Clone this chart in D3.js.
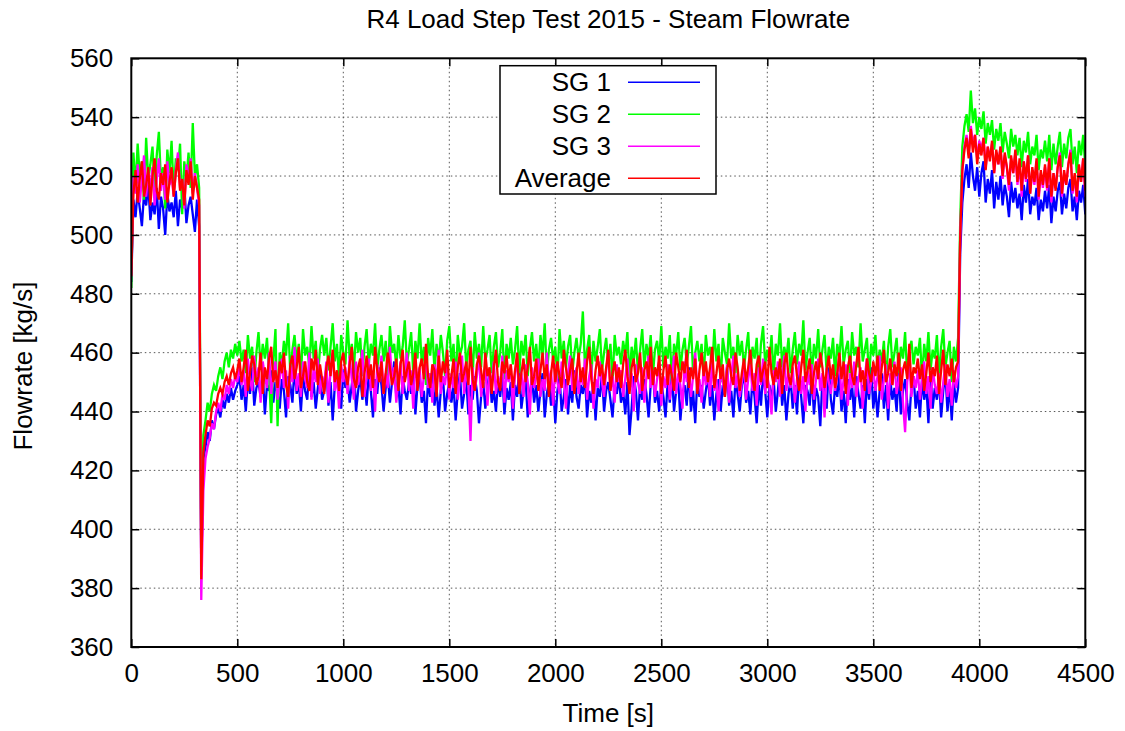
<!DOCTYPE html>
<html>
<head>
<meta charset="utf-8">
<script src="https://cdn.jsdelivr.net/npm/d3@7"></script>
<style>
  body { margin: 0; background: #fff; }
  svg { display: block; font-family: "Liberation Sans", Arial, Helvetica, sans-serif; }
</style>
</head>
<body>
<svg id="chart"></svg>
<script>
// samples every 10 s, t = 0 .. 4500
const TIME_STEP = 10;

const SG1 = [
  484, 512, 506, 515, 509, 503, 514, 510, 517, 505,
  511, 507, 516, 502, 513, 509, 500, 514, 508, 511,
  506, 515, 503, 512, 509, 517, 504, 510, 513, 507,
  501, 512,
  503, 386, 424, 428, 433, 430, 437, 434, 439, 441, 438, 444, 441, 446, 443, 448, 444, 447, 449,
  452, 444, 449, 440, 451, 446, 455, 442, 448, 450, 445, 453, 439, 449, 447, 454, 443, 450, 446, 441,
  451, 447, 438, 452, 449, 443, 455, 446, 450, 440, 452, 447, 444, 456, 445, 450, 441, 448, 453, 444,
  447, 455, 442, 450, 437, 449, 453, 445, 441, 454, 448, 451, 443, 449, 456, 440, 447, 452, 444, 450,
  442, 453, 447, 438, 451, 446, 455, 449, 440, 448, 452, 443, 450, 457, 445, 449, 439, 452, 447, 444,
  450, 446, 454, 439, 449, 452, 443, 447, 436, 451, 445, 454, 442, 448, 438, 447, 452, 440, 446, 450,
  443, 449, 437, 447, 453, 441, 446, 451, 439, 449, 444, 452, 447, 436, 445, 450, 441, 448, 454, 443,
  447, 440, 451, 445, 453, 439, 448, 444, 450, 437, 449, 445, 455, 441, 447, 451, 438, 446, 452, 443,
  449, 440, 447, 453, 438, 446, 450, 442, 449, 436, 447, 452, 440, 445, 451, 439, 449, 443, 454, 445,
  441, 449, 446, 452, 438, 447, 443, 450, 437, 448, 445, 453, 440, 447, 450, 444, 438, 449, 446, 452,
  443, 447, 439, 450, 432, 441, 452, 447, 437, 449, 444, 451, 446, 438, 449, 454, 443, 447, 440, 450,
  445, 438, 450, 443, 453, 440, 447, 451, 437, 446, 449, 442, 455, 440, 447, 436, 451, 445, 449, 441,
  447, 452, 442, 449, 437, 446, 451, 440, 449, 445, 455, 442, 447, 438, 451, 446, 440, 449, 453, 443,
  447, 439, 451, 445, 436, 449, 442, 453, 447, 438, 449, 444, 451, 440, 447, 455, 442, 449, 437, 446,
  451, 441, 449, 439, 453, 445, 436, 449, 447, 442, 453, 439, 448, 445, 435, 451, 447, 441, 455, 444,
  439, 449, 445, 453, 440, 447, 436, 451, 444, 449, 438, 452, 446, 441, 449, 436, 451, 444, 455, 441,
  448, 438, 447, 453, 441, 449, 437, 451, 444, 448, 440, 454, 439, 447, 451, 443, 437, 449, 452, 441,
  447, 438, 451, 444, 449, 436, 453, 441, 448, 444, 451, 438, 447, 453, 440, 449, 437, 450, 443, 448,
  494, 511, 519, 524, 516, 528, 520, 515, 523, 513, 521, 525, 511, 519, 514, 522, 509, 518, 512, 520,
  510, 517, 513, 506, 518, 511, 516, 509, 514, 505, 517, 511, 519, 507, 513, 510, 516, 505, 512, 508,
  515, 509, 517, 504, 513, 508, 515, 518, 507, 514, 509, 516, 519, 508, 513, 505, 515, 511, 517, 507
];

const SG2 = [
  482, 528, 516, 531, 520, 525, 512, 533, 519, 524,
  530, 515, 527, 535, 518, 523, 509, 529, 521, 532,
  514, 526, 522, 531, 507, 525, 519, 528, 516, 538,
  520, 524,
  516, 390, 432, 437, 443, 440, 446, 449, 447, 452, 455, 451, 457, 460, 455, 461, 458, 463, 459,
  464, 457, 461, 453, 466, 458, 462, 450, 460, 467, 455, 463, 458, 465, 452, 436, 457, 468, 435, 460,
  456, 464, 459, 470, 453, 461, 466, 457, 463, 451, 468, 459, 462, 455, 469, 458, 464, 452, 461, 466,
  459, 465, 454, 462, 470, 457, 463, 451, 466, 460, 456, 471, 458, 463, 454, 467, 460, 465, 452, 462,
  468, 456, 463, 459, 470, 454, 461, 466, 457, 464, 452, 469, 460, 463, 455, 466, 458, 462, 471, 456,
  461, 467, 453, 464, 458, 470, 456, 462, 449, 465, 459, 468, 454, 463, 457, 466, 460, 452, 464, 469,
  457, 463, 450, 466, 459, 462, 470, 455, 461, 464, 452, 467, 458, 463, 455, 469, 457, 461, 466, 453,
  462, 467, 455, 460, 468, 451, 463, 458, 465, 456, 461, 469, 453, 464, 459, 466, 452, 461, 467, 457,
  463, 454, 466, 459, 470, 453, 461, 465, 457, 462, 451, 468, 458, 464, 455, 462, 466, 453, 460, 465,
  458, 463, 474, 455, 461, 466, 452, 464, 457, 462, 468, 454, 460, 465, 456, 463, 450, 466, 459, 462,
  456, 464, 459, 467, 451, 462, 457, 465, 453, 461, 468, 455, 463, 458, 466, 452, 461, 464, 457, 469,
  455, 462, 458, 466, 450, 463, 459, 467, 454, 461, 465, 456, 462, 469, 453, 460, 464, 457, 463, 451,
  466, 459, 462, 454, 468, 457, 463, 450, 465, 460, 456, 470, 458, 462, 453, 466, 459, 464, 455, 461,
  467, 453, 462, 458, 465, 451, 463, 469, 456, 461, 457, 466, 452, 463, 459, 470, 455, 462, 458, 465,
  453, 461, 467, 456, 463, 459, 471, 454, 460, 465, 452, 463, 458, 468, 455, 461, 466, 453, 462, 458,
  465, 452, 463, 458, 469, 456, 461, 464, 453, 467, 459, 462, 455, 470, 457, 461, 465, 451, 463, 459,
  466, 454, 461, 457, 464, 450, 462, 468, 455, 460, 465, 453, 462, 458, 467, 452, 461, 464, 456, 462,
  459, 465, 451, 463, 457, 467, 454, 461, 458, 466, 452, 462, 468, 455, 460, 464, 450, 462, 457, 465,
  505, 530, 537, 541, 535, 549, 538, 543, 534, 540, 536, 542, 531, 538, 534, 539, 529, 536, 532, 538,
  528, 535, 531, 526, 536, 530, 534, 527, 533, 523, 532, 528, 535, 524, 530, 527, 534, 522, 529, 526,
  532, 525, 534, 522, 531, 524, 530, 535, 523, 531, 526, 533, 536, 524, 530, 521, 532, 527, 534, 523
];

const SG3 = [
  486, 520, 514, 524, 511, 519, 527, 513, 521, 516,
  523, 510, 519, 526, 515, 521, 512, 525, 517, 520,
  513, 522, 528, 516, 519, 509, 524, 518, 526, 514,
  521, 516,
  510, 376, 413, 424, 428, 431, 436, 434, 440, 443, 440, 446, 444, 449, 446, 451, 448, 452, 450,
  456, 449, 454, 445, 458, 451, 447, 459, 450, 455, 443, 457, 452, 448, 460, 446, 453, 457, 444, 451,
  458, 448, 454, 441, 456, 450, 462, 447, 453, 445, 457, 451, 448, 460, 444, 455, 450, 458, 446, 452,
  449, 457, 443, 454, 460, 447, 452, 441, 456, 450, 455, 446, 459, 451, 444, 457, 449, 453, 461, 445,
  452, 458, 447, 454, 440, 456, 450, 459, 446, 453, 448, 462, 449, 455, 443, 451, 457, 446, 453, 460,
  447, 454, 441, 457, 450, 455, 445, 452, 459, 448, 453, 443, 456, 450, 461, 446, 452, 449, 457, 444,
  453, 448, 457, 444, 451, 459, 446, 454, 449, 430, 455, 447, 452, 460, 445, 451, 456, 442, 453, 449,
  457, 446, 452, 448, 459, 443, 454, 450, 456, 441, 452, 458, 447, 453, 445, 456, 450, 439, 455, 448,
  452, 458, 445, 451, 447, 460, 449, 454, 442, 456, 450, 446, 457, 452, 441, 453, 459, 447, 451, 455,
  446, 453, 449, 458, 444, 452, 456, 441, 451, 448, 457, 450, 445, 454, 460, 447, 452, 443, 456, 450,
  454, 445, 451, 458, 447, 453, 440, 456, 450, 446, 455, 443, 452, 459, 448, 454, 445, 451, 457, 442,
  452, 448, 456, 444, 451, 459, 446, 453, 449, 441, 457, 450, 454, 445, 452, 460, 447, 451, 443, 455,
  449, 453, 445, 458, 447, 451, 440, 455, 450, 446, 456, 443, 452, 459, 448, 453, 445, 450, 457, 444,
  451, 456, 447, 453, 442, 455, 449, 458, 446, 452, 448, 439, 454, 450, 457, 445, 451, 459, 447, 453,
  448, 455, 443, 451, 457, 446, 452, 440, 454, 449, 456, 444, 451, 458, 447, 453, 438, 455, 450, 446,
  454, 447, 452, 459, 444, 451, 456, 442, 453, 448, 457, 445, 451, 455, 441, 452, 458, 446, 450, 454,
  447, 452, 459, 444, 451, 456, 441, 453, 449, 457, 446, 451, 455, 443, 433, 450, 456, 445, 452, 448,
  454, 444, 451, 457, 446, 452, 441, 455, 449, 446, 453, 443, 450, 456, 445, 451, 442, 454, 448, 452,
  500, 522, 530, 534, 527, 537, 531, 534, 526, 532, 529, 533, 523, 530, 526, 531, 521, 528, 524, 530,
  519, 527, 523, 515, 526, 521, 528, 517, 524, 513, 525, 518, 527, 514, 522, 517, 525, 512, 521, 516,
  523, 515, 526, 511, 521, 516, 523, 528, 513, 521, 517, 524, 529, 514, 520, 511, 523, 518, 526, 513
];

const AVERAGE = [
  486, 514, 522, 511, 519, 525, 513, 517, 523, 510,
  520, 526, 515, 512, 521, 517, 524, 511, 518, 523,
  513, 521, 526, 515, 519, 510, 522, 517, 525, 512,
  520, 516,
  512, 383, 426, 432, 437, 435, 441, 443, 442, 446, 448, 446, 450, 452, 449, 453, 455, 451, 454,
  458, 450, 455, 461, 447, 453, 459, 456, 449, 452, 460, 446, 455, 451, 458, 462, 450, 454, 448, 457,
  453, 460, 449, 445, 456, 459, 451, 455, 462, 448, 452, 457, 450, 447, 458, 454, 461, 449, 456, 451,
  446, 455, 459, 452, 461, 450, 454, 447, 457, 460, 453, 449, 456, 462, 451, 448, 455, 458, 445, 453,
  459, 451, 456, 448, 462, 454, 450, 457, 446, 453, 460, 455, 449, 452, 458, 447, 456, 461, 450, 454,
  457, 449, 453, 460, 447, 455, 458, 451, 463, 452, 448, 456, 454, 445, 459, 450, 457, 453, 461, 448,
  452, 458, 446, 455, 460, 450, 453, 457, 449, 462, 451, 447, 456, 459, 454, 448, 460, 452, 455, 446,
  455, 461, 450, 447, 457, 453, 459, 451, 456, 448, 454, 460, 446, 453, 458, 450, 455, 462, 449, 452,
  458, 447, 454, 460, 451, 456, 445, 453, 459, 450, 457, 452, 448, 461, 455, 449, 454, 458, 446, 453,
  460, 450, 455, 448, 457, 462, 451, 446, 454, 459, 452, 456, 449, 455, 461, 447, 453, 457, 450, 455,
  448, 456, 461, 452, 446, 455, 458, 450, 453, 460, 447, 454, 457, 451, 462, 449, 455, 452, 459, 446,
  454, 459, 449, 456, 452, 447, 460, 455, 450, 457, 453, 461, 448, 455, 451, 458, 446, 454, 460, 452,
  457, 450, 455, 462, 448, 453, 459, 451, 456, 445, 454, 458, 452, 449, 460, 455, 447, 453, 458, 450,
  455, 461, 451, 447, 456, 459, 450, 454, 457, 448, 462, 453, 449, 455, 451, 458, 446, 456, 460, 452,
  449, 456, 459, 452, 447, 455, 461, 450, 454, 458, 446, 453, 457, 451, 460, 455, 448, 454, 459, 451,
  456, 448, 453, 460, 451, 457, 446, 455, 459, 452, 449, 456, 462, 450, 454, 447, 458, 453, 450, 457,
  452, 459, 447, 455, 461, 450, 453, 458, 449, 456, 452, 460, 447, 454, 457, 451, 463, 448, 455, 453,
  458, 451, 456, 447, 453, 460, 450, 455, 452, 459, 446, 454, 461, 449, 456, 452, 458, 450, 455, 457,
  500, 522, 529, 533, 526, 536, 528, 534, 524, 531, 527, 533, 522, 530, 525, 532, 521, 529, 524, 530,
  520, 528, 523, 517, 527, 521, 529, 518, 526, 515, 525, 519, 527, 514, 523, 518, 526, 513, 522, 517,
  524, 516, 526, 513, 521, 515, 523, 527, 514, 522, 517, 524, 528, 515, 521, 513, 524, 518, 526, 515
];

const SERIES_NAMES = ["SG 1", "SG 2", "SG 3", "Average"];
const SERIES_COLORS = ["#0000ff", "#00ff00", "#ff00ff", "#ff0000"];
const X_TICKS = [0, 500, 1000, 1500, 2000, 2500, 3000, 3500, 4000, 4500];
const Y_TICKS = [360, 380, 400, 420, 440, 460, 480, 500, 520, 540, 560];

const width = 1125, height = 731;
const plot = { left: 131.3, right: 1085.3, top: 58.3, bottom: 647 };
const fontSize = 26;

const x = d3.scaleLinear().domain([0, 4500]).range([plot.left, plot.right]);
const y = d3.scaleLinear().domain([360, 560]).range([plot.bottom, plot.top]);

const svg = d3.select("#chart")
  .attr("width", width)
  .attr("height", height)
  .attr("viewBox", [0, 0, width, height]);

svg.append("rect").attr("width", width).attr("height", height).attr("fill", "#fff");

// dotted grid at interior ticks
const grid = svg.append("g")
  .attr("stroke", "#555")
  .attr("stroke-width", 1)
  .attr("stroke-dasharray", "1.5,3");
grid.selectAll("line.gx")
  .data(X_TICKS.slice(1, -1))
  .join("line")
  .attr("class", "gx")
  .attr("x1", d => x(d)).attr("x2", d => x(d))
  .attr("y1", plot.top).attr("y2", plot.bottom);
grid.selectAll("line.gy")
  .data(Y_TICKS.slice(1, -1))
  .join("line")
  .attr("class", "gy")
  .attr("x1", plot.left).attr("x2", plot.right)
  .attr("y1", d => y(d)).attr("y2", d => y(d));

svg.append("clipPath").attr("id", "clip")
  .append("rect")
  .attr("x", plot.left).attr("y", plot.top)
  .attr("width", plot.right - plot.left)
  .attr("height", plot.bottom - plot.top);

const line = d3.line()
  .x((d, i) => x(i * TIME_STEP))
  .y(d => y(d));

const allSeries = [SG1, SG2, SG3, AVERAGE];
svg.append("g")
  .attr("clip-path", "url(#clip)")
  .selectAll("path")
  .data(allSeries)
  .join("path")
  .attr("fill", "none")
  .attr("stroke", (d, i) => SERIES_COLORS[i])
  .attr("stroke-width", 2.3)
  .attr("d", line);

// axes with inward ticks on all four sides (gnuplot style)
const tickLen = 8;
const styleAxis = g => {
  g.select(".domain").remove();
  g.selectAll(".tick line").attr("stroke", "#000").attr("stroke-width", 1.5);
  g.selectAll(".tick text")
    .attr("fill", "#000")
    .attr("font-size", fontSize)
    .attr("font-family", "'Liberation Sans', Arial, sans-serif");
};
const fmt = d3.format("d");

svg.append("g")
  .attr("transform", `translate(0,${plot.bottom})`)
  .call(d3.axisBottom(x).tickValues(X_TICKS).tickFormat(fmt).tickSizeInner(-tickLen).tickSizeOuter(0).tickPadding(17))
  .call(styleAxis);
svg.append("g")
  .attr("transform", `translate(0,${plot.top})`)
  .call(d3.axisTop(x).tickValues(X_TICKS).tickSizeInner(-tickLen).tickSizeOuter(0).tickFormat(""))
  .call(styleAxis);
svg.append("g")
  .attr("transform", `translate(${plot.left},0)`)
  .call(d3.axisLeft(y).tickValues(Y_TICKS).tickFormat(fmt).tickSizeInner(-tickLen).tickSizeOuter(0).tickPadding(18))
  .call(styleAxis);
svg.append("g")
  .attr("transform", `translate(${plot.right},0)`)
  .call(d3.axisRight(y).tickValues(Y_TICKS).tickSizeInner(-tickLen).tickSizeOuter(0).tickFormat(""))
  .call(styleAxis);

svg.append("rect")
  .attr("x", plot.left).attr("y", plot.top)
  .attr("width", plot.right - plot.left)
  .attr("height", plot.bottom - plot.top)
  .attr("fill", "none")
  .attr("stroke", "#000")
  .attr("stroke-width", 2);

// titles
svg.append("text")
  .attr("x", (plot.left + plot.right) / 2)
  .attr("y", 28)
  .attr("text-anchor", "middle")
  .attr("font-size", fontSize)
  .text("R4 Load Step Test 2015 - Steam Flowrate");

svg.append("text")
  .attr("x", (plot.left + plot.right) / 2)
  .attr("y", 722)
  .attr("text-anchor", "middle")
  .attr("font-size", fontSize)
  .text("Time [s]");

svg.append("text")
  .attr("transform", `translate(32,366) rotate(-90)`)
  .attr("text-anchor", "middle")
  .attr("font-size", fontSize)
  .text("Flowrate [kg/s]");

// legend
const legend = svg.append("g");
legend.append("rect")
  .attr("x", 500).attr("y", 65.7)
  .attr("width", 216).attr("height", 128.3)
  .attr("fill", "#fff")
  .attr("stroke", "#000")
  .attr("stroke-width", 1.5);

const rows = legend.selectAll("g.row")
  .data(SERIES_NAMES)
  .join("g")
  .attr("class", "row")
  .attr("transform", (d, i) => `translate(0,${82.3 + i * 32})`);
rows.append("text")
  .attr("x", 611)
  .attr("dy", "0.35em")
  .attr("text-anchor", "end")
  .attr("font-size", fontSize)
  .text(d => d);
rows.append("line")
  .attr("x1", 628).attr("x2", 700)
  .attr("stroke", (d, i) => SERIES_COLORS[i])
  .attr("stroke-width", 1.5);
</script>
</body>
</html>
